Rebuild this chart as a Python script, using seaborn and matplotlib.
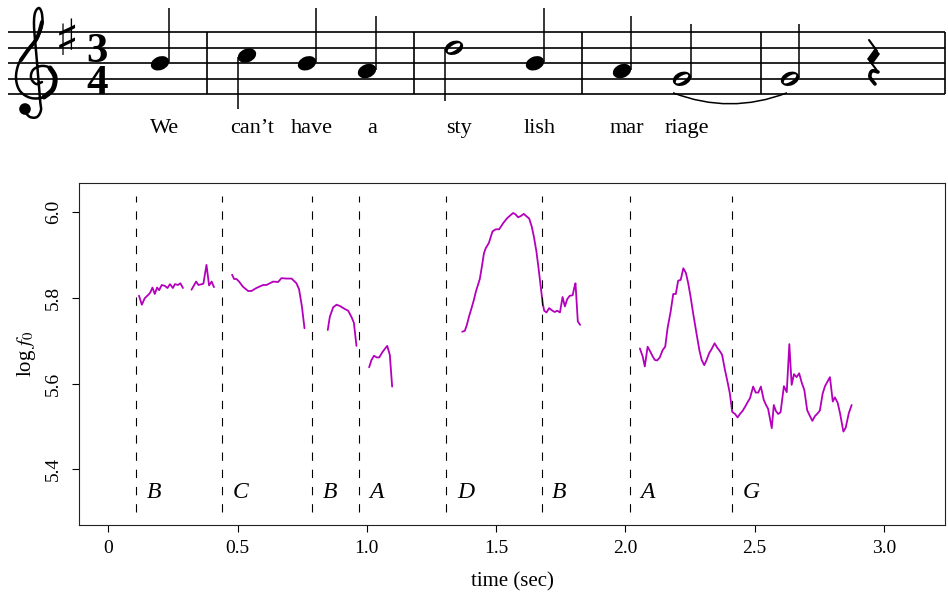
import numpy as np
import pandas as pd
import seaborn as sns
import matplotlib.pyplot as plt
from matplotlib.patches import Ellipse, PathPatch, Circle, Polygon
from matplotlib.path import Path

# pitch track, one pair of lists per voiced stretch (time in sec, log f0)
seg1_t = [0.119, 0.130, 0.141, 0.158, 0.163, 0.171, 0.180, 0.189, 0.197, 0.207,
          0.219, 0.229, 0.239, 0.250, 0.258, 0.270, 0.279, 0.289]
seg1_f = [5.805, 5.784, 5.799, 5.809, 5.813, 5.824, 5.809, 5.824, 5.818, 5.830,
          5.828, 5.823, 5.832, 5.823, 5.832, 5.830, 5.834, 5.823]
seg2_t = [0.322, 0.340, 0.349, 0.368, 0.380, 0.390, 0.400, 0.409]
seg2_f = [5.819, 5.838, 5.830, 5.833, 5.877, 5.829, 5.838, 5.825]
seg3_t = [0.479, 0.487, 0.496, 0.506, 0.521, 0.541, 0.554, 0.573, 0.599, 0.612,
          0.638, 0.657, 0.670, 0.689, 0.709, 0.728, 0.738, 0.749, 0.759]
seg3_f = [5.854, 5.844, 5.844, 5.838, 5.826, 5.816, 5.816, 5.823, 5.830, 5.830,
          5.838, 5.837, 5.846, 5.845, 5.845, 5.834, 5.820, 5.780, 5.729]
seg4_t = [0.849, 0.857, 0.870, 0.883, 0.896, 0.915, 0.928, 0.941, 0.950, 0.960]
seg4_f = [5.725, 5.756, 5.778, 5.784, 5.781, 5.774, 5.770, 5.755, 5.742, 5.688]
seg5_t = [1.009, 1.018, 1.028, 1.038, 1.048, 1.061, 1.079, 1.089, 1.098]
seg5_f = [5.638, 5.655, 5.665, 5.661, 5.661, 5.674, 5.688, 5.667, 5.593]
seg6_t = [1.369, 1.379, 1.387, 1.396, 1.405, 1.414, 1.422, 1.437, 1.445, 1.453,
          1.460, 1.472, 1.486, 1.499, 1.512, 1.527, 1.543, 1.556, 1.566, 1.575,
          1.585, 1.596, 1.607, 1.618, 1.628, 1.638, 1.646, 1.656, 1.665, 1.674,
          1.680, 1.686, 1.695, 1.705, 1.718, 1.727, 1.736, 1.747, 1.757, 1.766,
          1.775, 1.785, 1.796, 1.802, 1.807, 1.811, 1.816, 1.825]
seg6_f = [5.721, 5.723, 5.737, 5.758, 5.776, 5.795, 5.815, 5.844, 5.873, 5.904,
          5.916, 5.928, 5.955, 5.960, 5.960, 5.974, 5.986, 5.993, 5.998, 5.995,
          5.988, 5.991, 5.996, 5.990, 5.985, 5.966, 5.943, 5.908, 5.865, 5.819,
          5.788, 5.770, 5.766, 5.776, 5.770, 5.767, 5.770, 5.766, 5.802, 5.780,
          5.797, 5.805, 5.806, 5.823, 5.834, 5.795, 5.745, 5.737]
seg7_t = [2.056, 2.067, 2.075, 2.086, 2.095, 2.105, 2.114, 2.123, 2.133, 2.144,
          2.154, 2.163, 2.175, 2.185, 2.195, 2.204, 2.214, 2.224, 2.234, 2.243,
          2.252, 2.262, 2.275, 2.286, 2.295, 2.305, 2.314, 2.324, 2.333, 2.345,
          2.355, 2.366, 2.374, 2.385, 2.395, 2.404, 2.413, 2.424, 2.434, 2.443,
          2.453, 2.463, 2.474, 2.482, 2.494, 2.504, 2.514, 2.524, 2.535, 2.544,
          2.552, 2.566, 2.574, 2.582, 2.591, 2.600, 2.613, 2.624, 2.634, 2.643,
          2.652, 2.662, 2.672, 2.682, 2.692, 2.703, 2.713, 2.723, 2.733, 2.744,
          2.752, 2.763, 2.772, 2.781, 2.791, 2.802, 2.810, 2.821, 2.830, 2.843,
          2.852, 2.864, 2.875]
seg7_f = [5.682, 5.663, 5.640, 5.686, 5.676, 5.664, 5.655, 5.654, 5.661, 5.678,
          5.686, 5.729, 5.768, 5.809, 5.809, 5.840, 5.842, 5.869, 5.858, 5.834,
          5.803, 5.764, 5.717, 5.678, 5.655, 5.643, 5.655, 5.671, 5.680, 5.694,
          5.684, 5.675, 5.667, 5.632, 5.604, 5.577, 5.534, 5.529, 5.521, 5.529,
          5.536, 5.546, 5.558, 5.566, 5.593, 5.579, 5.579, 5.593, 5.562, 5.550,
          5.541, 5.496, 5.550, 5.536, 5.529, 5.533, 5.594, 5.580, 5.692, 5.597,
          5.622, 5.615, 5.624, 5.602, 5.585, 5.538, 5.525, 5.513, 5.524, 5.531,
          5.537, 5.577, 5.594, 5.604, 5.615, 5.558, 5.568, 5.555, 5.531, 5.488,
          5.497, 5.531, 5.550]

# note onsets found in the recording and the sung pitch names
onset_t = [0.109, 0.440, 0.788, 0.968, 1.308, 1.677, 2.016, 2.414]
onset_name = ['B', 'C', 'B', 'A', 'D', 'B', 'A', 'G']

# the score: staff step above the bottom line (E4), length in beats, syllable
note_step = [4, 5, 4, 3, 6, 4, 3, 2, 2]
note_beats = [1, 1, 1, 1, 2, 1, 1, 2, 2]
lyrics = ['We', 'can\u2019t', 'have', 'a', 'sty', 'lish', 'mar', 'riage', '']
rest_beats = 1

xticks = [0, 0.5, 1.0, 1.5, 2.0, 2.5, 3.0]
xtick_labels = ['0', '0.5', '1.0', '1.5', '2.0', '2.5', '3.0']
yticks = [5.4, 5.6, 5.8, 6.0]

sns.set_style('ticks')
plt.rcParams['font.family'] = ['Liberation Serif', 'DejaVu Serif']
plt.rcParams['mathtext.fontset'] = 'stix'
plt.rcParams['text.color'] = 'black'
plt.rcParams['axes.labelcolor'] = 'black'

W, H = 948, 592
fig = plt.figure(figsize=(W / 100, H / 100), dpi=100)


def smooth(pts, n=10):
    # catmull-rom through the outline points of a glyph
    p = np.array(pts, float)
    p = np.vstack([p[0], p, p[-1]])
    out = []
    for i in range(1, len(p) - 2):
        p0, p1, p2, p3 = p[i - 1], p[i], p[i + 1], p[i + 2]
        for s in np.linspace(0, 1, n, endpoint=False):
            out.append(0.5 * (2 * p1 + (p2 - p0) * s
                              + (2 * p0 - 5 * p1 + 4 * p2 - p3) * s ** 2
                              + (3 * p1 - p0 - 3 * p2 + p3) * s ** 3))
    out.append(p[-2])
    return np.array(out)


# ---------------- staff ----------------
sx = fig.add_axes([0, 1 - 150 / H, 1, 150 / H])
sx.set_xlim(0, W)
sx.set_ylim(150, 0)
sx.axis('off')

bottom_line = 94.3
step_px = 7.75


def sy(step):
    return bottom_line - step * step_px


staff_x0, staff_x1 = 8, 945
sx.hlines([sy(s) for s in range(0, 9, 2)], staff_x0, staff_x1, color='black', lw=1.2)

# note spacing from durations
space = {1: 60, 2: 81}
bar_extra = 27
bar_after = {1: 47, 2: 79}
all_beats = note_beats + [rest_beats]
xs, bars = [], []
x, beat = 160, 2
for i, d in enumerate(all_beats):
    xs.append(x)
    beat += d
    if beat % 3 == 0 and i < len(all_beats) - 1:
        bars.append(x + bar_after[d])
        x += bar_extra
    x += space[d]
bars.append(staff_x1)
sx.vlines(bars, sy(0), sy(8), color='black', lw=1.2)

# treble clef (no installed font has the glyph)
clef = smooth([(42, 82), (36, 84), (31, 78), (33, 70), (41, 66), (50, 68), (55, 77),
               (53, 89), (44, 97), (31, 98), (20, 91), (16, 78), (19, 63), (28, 50),
               (37, 38), (42, 26), (42, 14), (39, 8), (35, 13), (34, 26), (36, 50),
               (38, 75), (40, 100), (41, 110), (37, 117), (30, 117), (25, 112)])
sx.plot(clef[:, 0], clef[:, 1], color='black', lw=1.8, solid_capstyle='round')
thick = smooth([(44, 97), (53, 89), (55, 77), (50, 68)])
sx.plot(thick[:, 0], thick[:, 1], color='black', lw=3.6, solid_capstyle='round')
diag = smooth([(42, 22), (37, 38), (28, 50), (21, 60)])
sx.plot(diag[:, 0], diag[:, 1], color='black', lw=2.8, solid_capstyle='round')
sx.add_patch(Circle((25, 109), 5.8, color='black', lw=0))

sx.text(67, sy(8) + 9, '\u266F', fontsize=36, weight='bold', family='DejaVu Sans',
        ha='center', va='center')
sx.text(97, sy(0), '3\n4', fontsize=31, weight='bold', ha='center', va='baseline',
        linespacing=0.82)

for xn, st, d, syl in zip(xs, note_step, note_beats, lyrics):
    yn = sy(st)
    sx.add_patch(Ellipse((xn, yn), 19, 13.5, angle=-22, color='black', lw=0))
    if d == 2:
        sx.add_patch(Ellipse((xn, yn), 14.5, 5.5, angle=-33, color='white', lw=0))
    if st > 4:
        sx.plot([xn - 8.6, xn - 8.6], [yn + 1, yn + 53], color='black', lw=1.1,
                solid_capstyle='butt')
    else:
        sx.plot([xn + 8.6, xn + 8.6], [yn - 1, yn - 55], color='black', lw=1.1,
                solid_capstyle='butt')
    sx.text(xn + 5, 133, syl, fontsize=16, ha='center', va='baseline')

# tie between the two G half notes
p0, p2 = (xs[7] - 9, sy(2) + 14), (xs[8] - 3, sy(2) + 14)
tie = Path([p0, ((p0[0] + p2[0]) / 2, sy(2) + 36), p2],
           [Path.MOVETO, Path.CURVE3, Path.CURVE3])
sx.add_patch(PathPatch(tie, fc='none', ec='black', lw=1.1))

# quarter rest (drawn, no installed font has it)
cx = xs[-1] + 3
sx.plot([cx - 5, cx + 3], [40, 51], color='black', lw=1.5)
sx.add_patch(Polygon([(cx + 1, 48), (cx + 6, 54), (cx - 2, 65), (cx - 7, 59)],
                     closed=True, color='black', lw=0))
sx.plot([cx - 4, cx + 4], [61, 72], color='black', lw=1.5)
hook = smooth([(cx + 4, 72), (cx - 2, 71), (cx - 4, 77), (cx + 1, 84)], n=8)
sx.plot(hook[:, 0], hook[:, 1], color='black', lw=2.6, solid_capstyle='round')

# ---------------- pitch track ----------------
ax = fig.add_axes([79 / W, 1 - 525 / H, 866 / W, 342 / H])
segs = [(seg1_t, seg1_f), (seg2_t, seg2_f), (seg3_t, seg3_f), (seg4_t, seg4_f),
        (seg5_t, seg5_f), (seg6_t, seg6_f), (seg7_t, seg7_f)]
df = pd.concat([pd.DataFrame({'time': t, 'logf0': f, 'seg': i})
                for i, (t, f) in enumerate(segs)], ignore_index=True)
sns.lineplot(data=df, x='time', y='logf0', units='seg', estimator=None,
             sort=False, color='#b400bc', lw=1.3, ax=ax, legend=False)

ax.vlines(onset_t, 5.300, 6.038, colors='black', lw=0.8,
          linestyles=(0, (7.5, 8)))
for t, name in zip(onset_t, onset_name):
    ax.text(t + 0.04, 5.345, name, fontsize=17, style='italic', ha='left', va='center')

ax.set_xlim(-0.113, 3.236)
ax.set_ylim(5.270, 6.068)
ax.set_xticks(xticks)
ax.set_xticklabels(xtick_labels)
ax.set_yticks(yticks)
ax.set_yticklabels([f'{v:.1f}' for v in yticks], rotation=90, va='center')
ax.tick_params(direction='out', length=5, width=0.8, labelsize=14, colors='black')
ax.tick_params(axis='x', pad=6)
ax.tick_params(axis='y', pad=7)
for sp in ax.spines.values():
    sp.set_visible(True)
    sp.set_linewidth(0.8)
    sp.set_color('#222222')
ax.set_xlabel('time (sec)', fontsize=15, labelpad=11)
ax.set_ylabel(r'log $f_0$', fontsize=15, labelpad=5)

fig.savefig('out.png', dpi=100)
